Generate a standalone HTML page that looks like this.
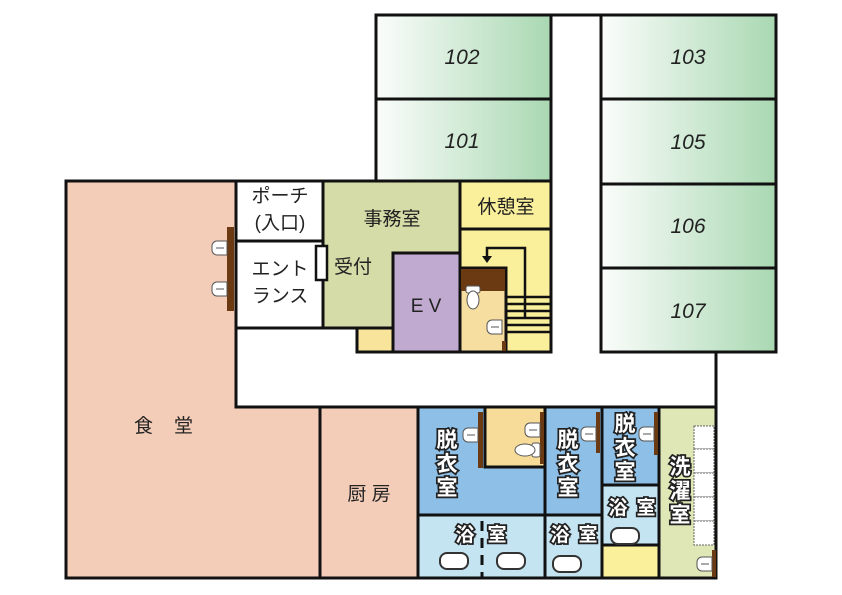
<!DOCTYPE html>
<html><head><meta charset="utf-8"><style>
html,body{margin:0;padding:0;background:#fff;}
svg{display:block;}
text{font-family:"Liberation Sans","Noto Sans CJK JP",sans-serif;}
.rn{font-style:italic;font-size:21px;fill:#222;}
.j{font-size:19px;fill:#222;}
.w{font-size:21px;fill:#fff;stroke:#222;stroke-width:3.5px;paint-order:stroke;font-weight:bold;}
.w2{font-size:19px;}
</style></head><body>
<svg width="842" height="595" viewBox="0 0 842 595" xmlns="http://www.w3.org/2000/svg">
<defs>
<linearGradient id="g" x1="0" x2="1" y1="0" y2="0"><stop offset="0" stop-color="#fbfdfb"/><stop offset="1" stop-color="#a9d8b2"/></linearGradient>
<g id="sink"><path d="M0,0 h-10 a5,5 0 0 0 -5,5 v4 a5,5 0 0 0 5,5 h10z" fill="#fff" stroke="#555" stroke-width="1"/><line x1="-11" y1="7" x2="-3" y2="7" stroke="#555" stroke-width="1"/></g>
<g id="tub"><rect x="0" y="0" width="28" height="16" rx="7" fill="#fff" stroke="#333" stroke-width="2"/></g>
</defs>
<g stroke="#111" stroke-width="3">
<!-- corridor -->
<rect x="236" y="328" width="480" height="79" fill="#fff" stroke="none"/>
<line x1="236" y1="407" x2="716" y2="407"/>
<line x1="716" y1="350" x2="716" y2="408"/>
<!-- guest rooms -->
<rect x="376" y="15" width="175" height="84" fill="url(#g)"/>
<rect x="376" y="99" width="175" height="82" fill="url(#g)"/>
<rect x="601" y="15" width="175" height="84" fill="url(#g)"/>
<rect x="601" y="99" width="175" height="85" fill="url(#g)"/>
<rect x="601" y="184" width="175" height="84" fill="url(#g)"/>
<rect x="601" y="268" width="175" height="84" fill="url(#g)"/>
<line x1="551" y1="15" x2="601" y2="15"/>
<line x1="601" y1="352" x2="716" y2="352"/>
<!-- dining -->
<path d="M66,181 H236 V407 H320 V578 H66 Z" fill="#f4cdb9"/>
<rect x="320" y="407" width="98" height="171" fill="#f4cdb9"/>
<!-- porch/entrance -->
<rect x="236" y="181" width="87" height="60" fill="#fff"/>
<rect x="236" y="241" width="87" height="87" fill="#fff"/>
<!-- office -->
<rect x="323" y="181" width="137" height="147" fill="#d5dca8"/>
<rect x="357" y="328" width="36" height="24" fill="#f8e49a"/>
<rect x="393" y="253" width="67" height="99" fill="#c0aad0"/>
<!-- rest / stairs -->
<rect x="460" y="181" width="91" height="48" fill="#faef9a"/>
<rect x="460" y="229" width="91" height="123" fill="#faef9a"/>
<rect x="460" y="268" width="46" height="84" fill="#f6dea0"/>
<!-- bath area -->
<rect x="418" y="407" width="127" height="108" fill="#8ebfe6"/>
<rect x="485" y="407" width="60" height="60" fill="#f6dc98"/>
<rect x="545" y="407" width="57" height="108" fill="#8ebfe6"/>
<rect x="602" y="407" width="57" height="78" fill="#8ebfe6"/>
<rect x="602" y="485" width="57" height="60" fill="#c4e4f2"/>
<rect x="602" y="545" width="57" height="33" fill="#faef9a"/>
<rect x="418" y="515" width="127" height="63" fill="#c4e4f2"/>
<rect x="545" y="515" width="57" height="63" fill="#c4e4f2"/>
<rect x="659" y="407" width="57" height="171" fill="#dfe7b6"/>
</g>
<!-- stairs details -->
<rect x="461" y="269" width="44" height="22" fill="#6b3a12"/>
<g stroke="#111" stroke-width="2.5">
<line x1="506" y1="297" x2="550" y2="297"/><line x1="506" y1="304" x2="550" y2="304"/><line x1="506" y1="311" x2="550" y2="311"/><line x1="506" y1="318" x2="550" y2="318"/><line x1="506" y1="325" x2="550" y2="325"/><line x1="506" y1="332" x2="550" y2="332"/>
<line x1="525" y1="268" x2="525" y2="319"/>
<polyline points="525,268 525,248 487,248 487,258" fill="none"/>
</g>
<polygon points="482,256 492,256 487,263" fill="#111"/>
<line x1="482" y1="515" x2="482" y2="578" stroke="#111" stroke-width="3" stroke-dasharray="10,7" stroke-dashoffset="-6"/>
<!-- reception window -->
<rect x="316" y="246" width="11" height="34" fill="#fff" stroke="#111" stroke-width="2.5"/>
<!-- brown bars -->
<g fill="#6b3a12">
<rect x="227" y="227" width="7" height="84"/>
<rect x="478" y="412" width="5" height="56"/>
<rect x="540" y="412" width="4" height="52"/>
<rect x="596" y="412" width="4" height="41"/>
<rect x="654" y="412" width="4" height="43"/>
<rect x="712" y="550" width="4" height="27"/>
<rect x="502" y="341" width="4" height="10"/>
</g>
<use href="#sink" x="227" y="241"/><use href="#sink" x="227" y="282"/>
<use href="#sink" x="478" y="428"/><use href="#sink" x="540" y="423"/><use href="#sink" x="596" y="427"/><use href="#sink" x="654" y="427"/><use href="#sink" x="712" y="557"/><use href="#sink" x="502" y="320"/>
<!-- toilets -->
<g fill="#fff" stroke="#555" stroke-width="1">
<rect x="532" y="443" width="8" height="14" rx="2"/><ellipse cx="525" cy="450" rx="10" ry="6"/>
<rect x="466" y="286" width="14" height="7" rx="2"/><ellipse cx="473" cy="300" rx="6" ry="9"/>
</g>
<!-- tubs -->
<use href="#tub" x="440" y="553"/><use href="#tub" x="497" y="553"/><use href="#tub" x="553" y="556"/><use href="#tub" x="611" y="528"/>
<!-- laundry dashed -->
<g fill="#fff" stroke="#666" stroke-width="1" stroke-dasharray="2,1">
<rect x="694" y="426" width="20" height="23"/><rect x="694" y="449" width="20" height="24"/><rect x="694" y="473" width="20" height="24"/><rect x="694" y="497" width="20" height="24"/><rect x="694" y="521" width="20" height="24"/>
</g>
<!-- labels -->
<text class="rn" x="462" y="64" text-anchor="middle">102</text>
<text class="rn" x="462" y="148" text-anchor="middle">101</text>
<text class="rn" x="688" y="64" text-anchor="middle">103</text>
<text class="rn" x="688" y="149" text-anchor="middle">105</text>
<text class="rn" x="688" y="233" text-anchor="middle">106</text>
<text class="rn" x="688" y="318" text-anchor="middle">107</text>
<text class="j" x="280" y="202" text-anchor="middle">ポーチ</text>
<text class="j" x="280" y="229" text-anchor="middle">(入口)</text>
<text class="j" x="280" y="275" text-anchor="middle">エント</text>
<text class="j" x="280" y="302" text-anchor="middle">ランス</text>
<text class="j" x="392" y="225" text-anchor="middle">事務室</text>
<text class="j" x="353" y="273" text-anchor="middle">受付</text>
<text class="j" x="426" y="312" text-anchor="middle" font-size="23">E V</text>
<text class="j" x="506" y="213" text-anchor="middle">休憩室</text>
<text class="j" x="134" y="432" font-size="21">食</text>
<text class="j" x="174" y="432" font-size="21">堂</text>
<text class="j" x="369" y="500" text-anchor="middle">厨 房</text>
<g class="w" text-anchor="middle">
<text x="447" y="447">脱</text><text x="447" y="471">衣</text><text x="447" y="495">室</text>
<text x="568" y="447">脱</text><text x="568" y="471">衣</text><text x="568" y="495">室</text>
<text x="625" y="431">脱</text><text x="625" y="455">衣</text><text x="625" y="479">室</text>
<text x="680" y="474">洗</text><text x="680" y="498">濯</text><text x="680" y="522">室</text>
<text class="w2" x="465" y="541">浴</text><text class="w2" x="497" y="541">室</text>
<text class="w2" x="560" y="541">浴</text><text class="w2" x="588" y="541">室</text>
<text class="w2" x="618" y="514">浴</text><text class="w2" x="646" y="514">室</text>
</g>
</svg>
</body></html>
